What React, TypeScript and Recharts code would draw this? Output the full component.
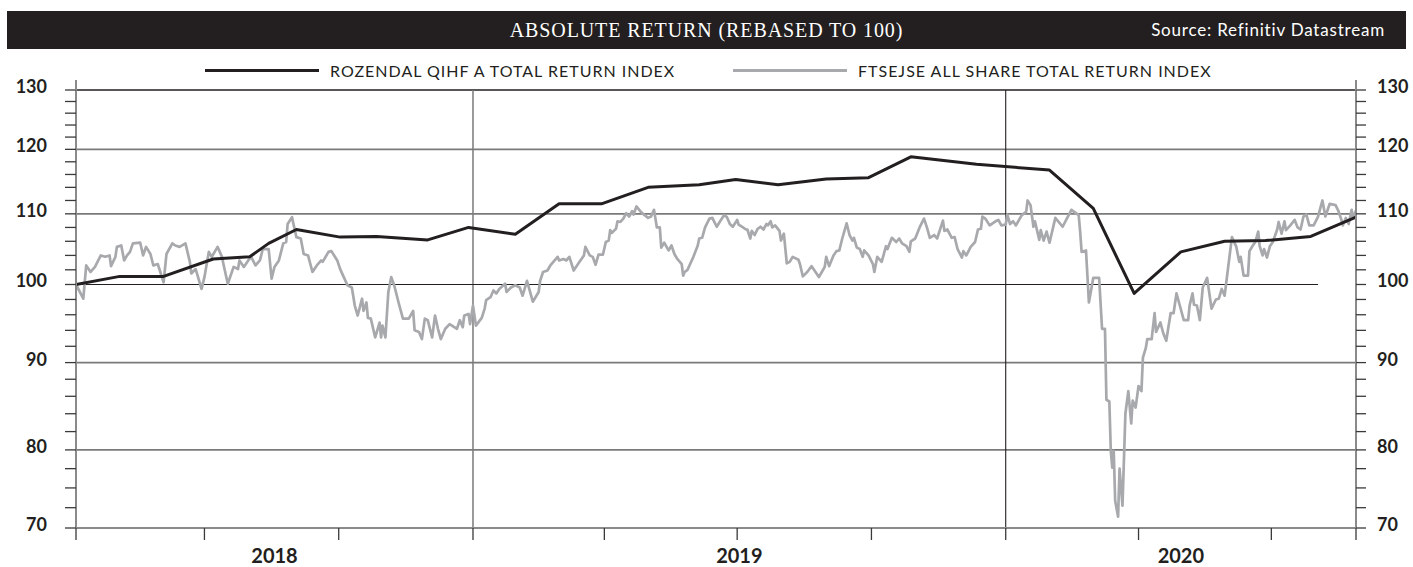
import { LineChart, Line, XAxis, YAxis, ReferenceLine } from "recharts";

const START = Date.UTC(2018, 3, 4);
const DAY = 24 * 60 * 60 * 1000;
const END = START + 877 * DAY;

// [days since 4 Apr 2018, index level]
const rozendal: [number, number][] = [
  [0, 100.0], [30, 101.1], [60, 101.1], [94, 103.5], [119, 103.8], [132, 105.7],
  [151, 107.7], [181, 106.6], [206, 106.7], [241, 106.2], [269, 108.0], [301, 107.0],
  [331, 111.5], [360, 111.5], [392, 114.0], [427, 114.4], [452, 115.2], [481, 114.4],
  [514, 115.3], [543, 115.5], [572, 118.8], [617, 117.6], [667, 116.7], [697, 110.8],
  [725, 98.8], [757, 104.5], [787, 106.0], [815, 106.1], [846, 106.7], [877, 109.5],
];

const ftse: [number, number][] = [
  [0, 100.0], [5, 98.1], [7, 102.6], [10, 101.7], [13, 102.4], [17, 104.0], [20, 103.8],
  [23, 104.0], [24, 102.5], [27, 103.8], [28, 105.2], [31, 105.4], [33, 103.3], [35, 104.0],
  [37, 104.5], [39, 105.7], [44, 105.8], [46, 104.0], [48, 105.2], [51, 104.2], [53, 102.6],
  [56, 102.8], [60, 100.3], [62, 104.2], [66, 105.7], [68, 105.4], [71, 105.2], [75, 105.7],
  [78, 103.1], [79, 101.5], [82, 102.1], [86, 99.4], [88, 101.0], [91, 104.5], [93, 103.8],
  [95, 104.5], [97, 105.2], [100, 103.8], [101, 102.8], [104, 100.1], [108, 102.4], [111, 102.1],
  [112, 103.3], [115, 102.4], [118, 103.3], [120, 103.8], [123, 102.6], [126, 103.3], [128, 104.9],
  [132, 104.9], [134, 100.8], [136, 102.4], [139, 103.3], [142, 105.7], [144, 105.9], [145, 108.5],
  [148, 109.5], [149, 108.5], [151, 106.6], [154, 106.4], [156, 104.2], [159, 104.0], [162, 101.7],
  [165, 102.6], [168, 103.3], [169, 103.1], [173, 104.5], [175, 104.6], [179, 103.3], [181, 102.1],
  [183, 101.2], [186, 99.9], [189, 99.6], [191, 97.2], [193, 95.9], [196, 98.1], [197, 96.5],
  [199, 97.6], [200, 95.6], [202, 95.5], [205, 93.1], [208, 95.0], [209, 93.1], [210, 94.6],
  [212, 93.1], [214, 99.0], [216, 101.0], [218, 99.9], [221, 97.6], [224, 95.5], [228, 95.5],
  [231, 96.5], [232, 94.0], [235, 93.8], [237, 92.9], [239, 95.5], [241, 95.3], [244, 93.1],
  [246, 95.9], [248, 94.2], [250, 92.9], [253, 94.2], [256, 94.8], [261, 94.2], [263, 95.3],
  [265, 94.4], [266, 95.9], [269, 96.1], [270, 94.8], [272, 97.2], [274, 94.6], [278, 95.6],
  [280, 96.8], [281, 97.9], [284, 98.3], [286, 99.2], [288, 98.8], [290, 99.4], [294, 100.1],
  [295, 99.0], [298, 99.6], [301, 99.9], [304, 99.6], [306, 98.5], [309, 100.5], [313, 97.7],
  [317, 99.0], [318, 100.5], [320, 101.7], [323, 101.9], [325, 102.6], [330, 103.8], [331, 103.3],
  [334, 103.5], [336, 103.3], [338, 103.8], [341, 101.9], [345, 103.1], [348, 104.0], [349, 105.2],
  [352, 104.0], [354, 103.8], [356, 102.7], [358, 104.1], [361, 104.1], [363, 105.9], [365, 106.1],
  [366, 107.6], [367, 107.2], [370, 107.8], [371, 108.9], [373, 108.8], [375, 109.3], [377, 110.1],
  [379, 109.6], [381, 110.4], [382, 109.9], [384, 111.1], [387, 110.3], [389, 109.9], [392, 109.4],
  [394, 109.6], [396, 110.6], [398, 108.0], [400, 108.0], [401, 105.1], [403, 105.8], [406, 104.7],
  [408, 105.4], [410, 104.2], [412, 103.5], [415, 102.8], [416, 101.2], [417, 101.7], [419, 102.0],
  [423, 103.8], [426, 105.4], [427, 106.4], [429, 106.5], [431, 108.0], [434, 109.3], [436, 109.4],
  [439, 108.1], [441, 108.8], [444, 109.8], [446, 109.5], [448, 108.5], [450, 108.1], [453, 109.1],
  [454, 108.4], [457, 108.0], [459, 107.7], [460, 107.7], [462, 106.4], [463, 107.5], [465, 106.9],
  [467, 107.8], [469, 108.1], [471, 107.7], [473, 108.5], [474, 108.3], [476, 108.9], [477, 108.0],
  [479, 108.3], [482, 107.5], [483, 106.1], [485, 107.1], [487, 102.9], [489, 103.1], [491, 103.8],
  [495, 103.4], [496, 102.8], [498, 101.1], [501, 101.7], [504, 102.5], [509, 101.0], [511, 101.7],
  [513, 102.4], [514, 103.8], [516, 102.5], [519, 104.0], [521, 104.6], [523, 104.7], [525, 106.4],
  [528, 108.6], [530, 106.9], [532, 106.1], [533, 106.5], [535, 105.1], [537, 104.9], [539, 103.8],
  [540, 104.7], [543, 104.0], [546, 102.8], [547, 101.7], [549, 103.8], [552, 103.1], [555, 105.3],
  [556, 104.9], [559, 106.5], [562, 105.9], [564, 106.4], [566, 105.7], [569, 105.3], [571, 104.5],
  [572, 106.0], [575, 106.4], [578, 108.0], [581, 109.3], [583, 108.0], [585, 106.5], [588, 106.9],
  [590, 106.4], [594, 109.0], [595, 107.5], [597, 107.7], [600, 106.5], [602, 106.6], [604, 104.9],
  [607, 103.7], [608, 104.6], [610, 104.0], [613, 105.2], [616, 105.9], [618, 107.7], [620, 107.8],
  [621, 109.6], [623, 109.3], [626, 108.3], [630, 108.9], [632, 109.1], [634, 108.3], [637, 108.4],
  [638, 109.9], [640, 108.5], [642, 108.9], [644, 108.3], [648, 109.8], [651, 110.3], [652, 112.0],
  [654, 111.3], [656, 108.1], [657, 108.9], [660, 106.2], [661, 107.6], [663, 106.1], [665, 107.4],
  [667, 105.8], [671, 109.4], [676, 108.1], [682, 110.6], [687, 109.8], [688, 107.4], [689, 104.5],
  [692, 104.7], [694, 97.6], [697, 100.9], [701, 100.9], [703, 94.2], [705, 94.2], [706, 85.6],
  [708, 85.4], [709, 79.9], [710, 78.1], [711, 79.9], [712, 74.7], [714, 73.1], [715, 78.0],
  [717, 74.2], [719, 84.0], [721, 86.6], [723, 82.9], [724, 85.5], [726, 84.7], [728, 87.2],
  [730, 86.6], [731, 90.6], [733, 91.8], [734, 92.9], [737, 92.9], [739, 96.2], [740, 93.8],
  [743, 95.0], [745, 93.6], [747, 92.7], [750, 96.2], [752, 96.2], [754, 98.8], [756, 97.4],
  [759, 95.3], [762, 95.3], [763, 97.2], [765, 98.8], [766, 97.3], [768, 97.2], [770, 95.3],
  [772, 99.6], [775, 100.9], [778, 96.8], [781, 98.0], [783, 98.1], [785, 99.4], [787, 98.5],
  [790, 103.3], [792, 106.6], [795, 105.2], [797, 103.1], [798, 103.8], [800, 101.2], [803, 101.2],
  [804, 104.6], [806, 105.3], [808, 105.9], [810, 107.4], [811, 105.3], [813, 104.0], [814, 104.9],
  [816, 103.7], [818, 105.3], [820, 105.9], [823, 107.7], [824, 108.8], [826, 107.1], [828, 108.9],
  [829, 107.6], [832, 108.3], [835, 109.1], [837, 108.0], [839, 107.7], [841, 109.6], [843, 109.9],
  [845, 108.3], [848, 108.3], [851, 109.6], [854, 112.0], [856, 109.6], [859, 111.5], [863, 111.3],
  [865, 110.4], [867, 109.1], [868, 108.3], [870, 109.4], [872, 108.5], [874, 110.6], [875, 109.4],
  [877, 110.5],
];

const yTicks = [
  72, 74, 76, 78, 80, 82, 84, 86, 88, 90, 92, 94, 96, 98, 100, 102, 104, 106, 108, 110,
  112, 114, 116, 118, 120, 122, 124, 126, 128, 130,
];
// the source prints "70" against the bottom of the axis
const yLabels: Record<number, string> = {
  72: "70", 80: "80", 90: "90", 100: "100", 110: "110", 120: "120", 130: "130",
};
const gridValues = [80, 90, 110, 120];
const quarterStarts = [
  "2018-07-01", "2018-10-01", "2019-01-01", "2019-04-01", "2019-07-01",
  "2019-10-01", "2020-01-01", "2020-04-01", "2020-07-01",
];
const yearStarts = ["2019-01-01", "2020-01-01"];
const yearLineColors = ["#7a7a7a", "#231f20"];
const years = ["2018", "2019", "2020"];
const baseLineEnd = "2020-08-02";

const legendItems = [
  { name: "ROZENDAL QIHF A TOTAL RETURN INDEX", color: "#231f20", left: 205 },
  { name: "FTSEJSE ALL SHARE TOTAL RETURN INDEX", color: "#a7a9ac", left: 733 },
];

const FONT = "Lato, 'Noto Sans', sans-serif";
const AXIS = "#8a8a8a";
const TICK = "#3a3a3a";

const toPoints = (rows: [number, number][]) =>
  rows.map(([d, v]) => ({ date: START + d * DAY, value: v }));

const bounds = [START, ...yearStarts.map((s) => Date.parse(s)), END];
const yearMids = years.map((_, i) => (bounds[i] + bounds[i + 1]) / 2);
const xTicks = [START, ...quarterStarts.map((s) => Date.parse(s)), END, ...yearMids].sort(
  (a, b) => a - b
);

const XTick = (props: any) => {
  const { x, y, payload } = props;
  const idx = yearMids.indexOf(payload.value);
  if (idx >= 0) {
    return (
      <text x={x} y={y + 35} textAnchor="middle" fontFamily={FONT} fontWeight={700}
        fontSize={20} fill="#231f20">
        {years[idx]}
      </text>
    );
  }
  return <line x1={x} x2={x} y1={y} y2={y + 12} stroke={TICK} strokeWidth={1.3} />;
};

const LeftTick = (props: any) => {
  const { x, y, payload } = props;
  const label = yLabels[payload.value];
  return (
    <g>
      <line x1={x - 11} x2={x} y1={y} y2={y} stroke={TICK} strokeWidth={1.3} />
      {payload.value === 130 && <line x1={x} x2={x} y1={y - 10} y2={y} stroke={AXIS} strokeWidth={2} />}
      {label && (
        <text x={x - 29} y={y - 4} textAnchor="end" dominantBaseline="central"
          fontFamily={FONT} fontWeight={700} fontSize={18} fill="#231f20">
          {label}
        </text>
      )}
    </g>
  );
};

const RightTick = (props: any) => {
  const { x, y, payload } = props;
  const label = yLabels[payload.value];
  return (
    <g>
      <line x1={x} x2={x + 10} y1={y} y2={y} stroke={TICK} strokeWidth={1.3} />
      {payload.value === 130 && <line x1={x} x2={x} y1={y - 10} y2={y} stroke={AXIS} strokeWidth={2} />}
      {label && (
        <text x={x + 21} y={y - 4} textAnchor="start" dominantBaseline="central"
          fontFamily={FONT} fontWeight={700} fontSize={18} fill="#231f20">
          {label}
        </text>
      )}
    </g>
  );
};

export default function App() {
  return (
    <div style={{ position: "absolute", left: 0, top: 0, width: 1413, height: 567, background: "#fff" }}>
      <div
        style={{
          position: "absolute", left: 7, top: 11, width: 1399, height: 38, background: "#231f20",
          color: "#fff",
        }}
      >
        <div
          style={{
            position: "absolute", left: 0, right: 0, top: 0, lineHeight: "38px", textAlign: "center",
            fontFamily: "'Liberation Serif', serif", fontSize: 20, letterSpacing: 0.9,
          }}
        >
          ABSOLUTE RETURN (REBASED TO 100)
        </div>
        <div
          style={{
            position: "absolute", right: 21, top: 0, lineHeight: "38px", fontFamily: FONT, fontSize: 17,
            letterSpacing: 0.8,
          }}
        >
          Source: Refinitiv Datastream
        </div>
      </div>

      {legendItems.map((item) => (
        <div key={item.name} style={{ position: "absolute", left: item.left, top: 60, height: 20,
          display: "flex", alignItems: "center" }}>
          <div style={{ width: 114, height: 3, background: item.color }} />
          <span style={{ marginLeft: 11, fontFamily: FONT, fontSize: 16, fontWeight: 400,
            color: "#231f20", letterSpacing: 1.0 }}>
            {item.name}
          </span>
        </div>
      ))}

      <LineChart width={1413} height={567} margin={{ top: 90, right: 0, bottom: 0, left: 0 }}>
        <XAxis
          dataKey="date" type="number" domain={[START, END]} allowDataOverflow ticks={xTicks}
          interval={0} tickSize={0} tickMargin={0} height={39} tickLine={false}
          axisLine={{ stroke: AXIS, strokeWidth: 2 }} tick={<XTick />}
        />
        <YAxis
          yAxisId="left" orientation="left" width={76} scale="log" domain={[72, 130]}
          allowDataOverflow ticks={yTicks} interval={0} tickSize={0} tickMargin={0}
          tickLine={false} axisLine={{ stroke: AXIS, strokeWidth: 2 }} tick={<LeftTick />}
        />
        <YAxis
          yAxisId="right" orientation="right" width={57} scale="log" domain={[72, 130]}
          allowDataOverflow ticks={yTicks} interval={0} tickSize={0} tickMargin={0}
          tickLine={false} axisLine={{ stroke: AXIS, strokeWidth: 2 }} tick={<RightTick />}
        />
        {gridValues.map((v) => (
          <ReferenceLine key={v} yAxisId="left" y={v} stroke="#7a7a7a" strokeWidth={1.6} />
        ))}
        <ReferenceLine yAxisId="left" y={130} stroke="#231f20" strokeWidth={1.4} />
        {yearStarts.map((s, i) => (
          <ReferenceLine key={s} yAxisId="left" x={Date.parse(s)} stroke={yearLineColors[i]}
            strokeWidth={i === 0 ? 1.5 : 1.1} />
        ))}
        <ReferenceLine
          yAxisId="left"
          segment={[{ x: START, y: 100 }, { x: Date.parse(baseLineEnd), y: 100 }]}
          stroke="#231f20" strokeWidth={1.2}
        />
        <Line
          yAxisId="right" data={toPoints(ftse)} dataKey="value" type="linear" stroke="#a7a9ac"
          strokeWidth={2.7} dot={false} isAnimationActive={false} strokeLinejoin="round"
        />
        <Line
          yAxisId="left" data={toPoints(rozendal)} dataKey="value" type="linear" stroke="#231f20"
          strokeWidth={3} dot={false} isAnimationActive={false} strokeLinejoin="round"
        />
      </LineChart>
    </div>
  );
}
